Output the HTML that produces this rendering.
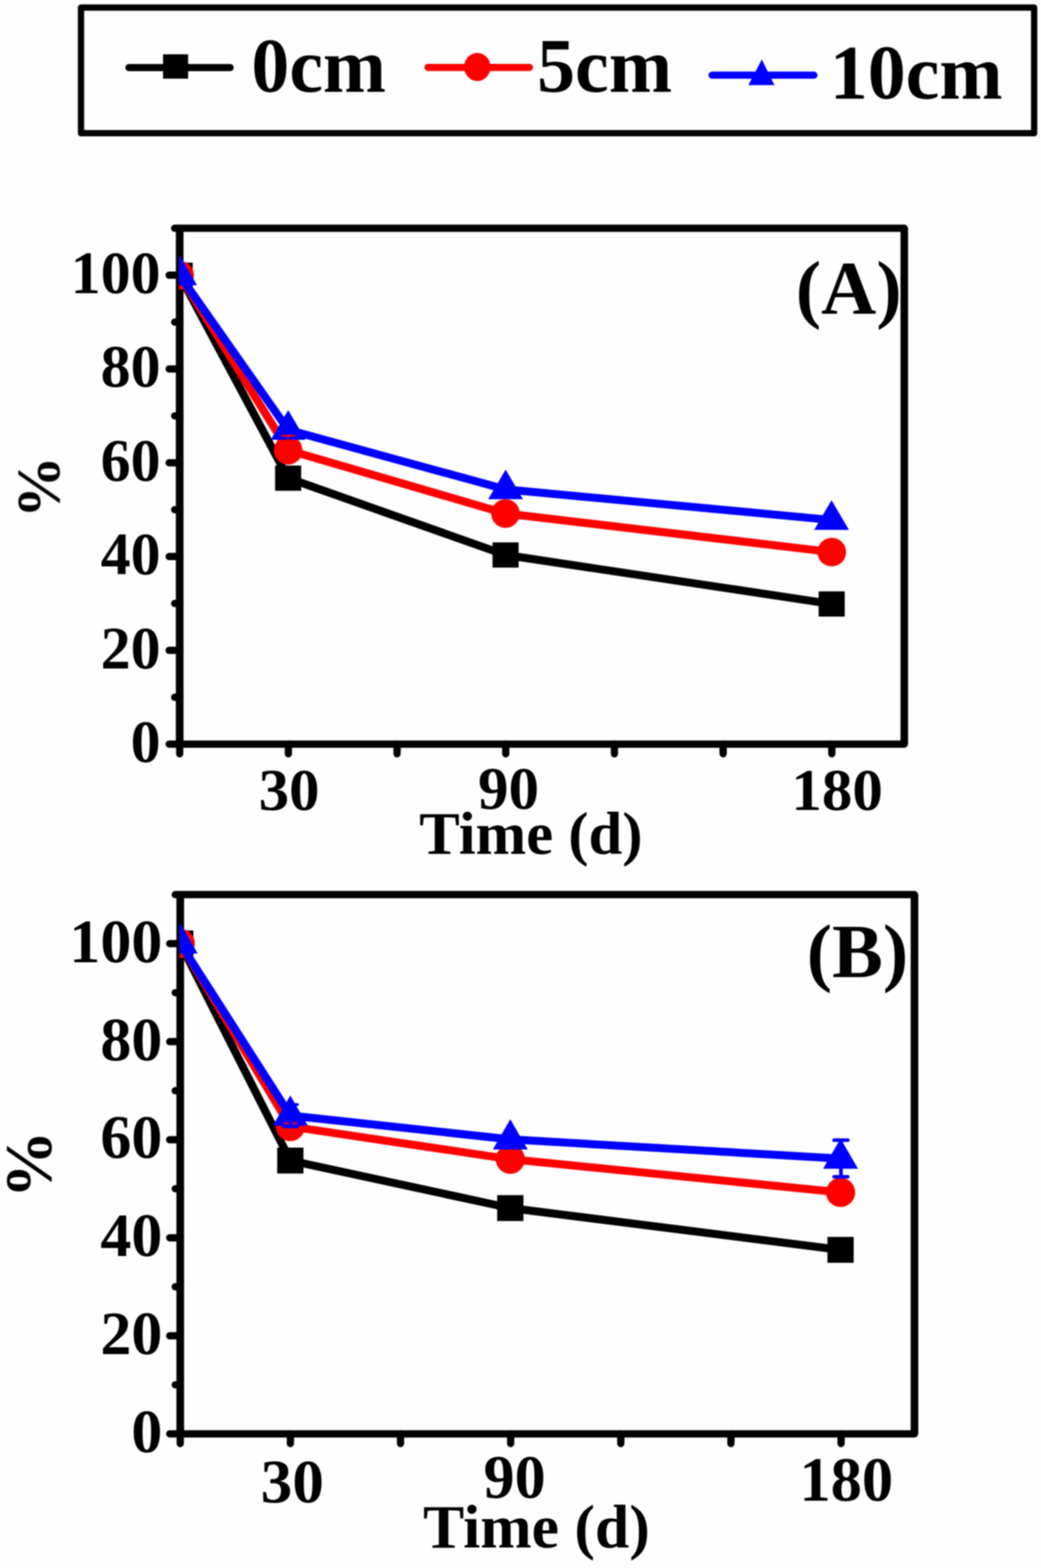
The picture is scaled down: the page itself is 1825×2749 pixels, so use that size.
<!DOCTYPE html>
<html lang="en"><head><meta charset="utf-8"><title>Figure</title>
<style>html,body{margin:0;padding:0;background:#fefefe}svg{display:block}text{font-family:"Liberation Serif",serif;font-weight:bold;fill:#000}</style></head><body>
<svg width="1825" height="2749" viewBox="0 0 1825 2749">
<rect width="1825" height="2749" fill="#fefefe"/>
<defs><filter id="soft" filterUnits="userSpaceOnUse" x="0" y="0" width="1825" height="2749" color-interpolation-filters="sRGB"><feGaussianBlur stdDeviation="1"/></filter></defs>
<g filter="url(#soft)">
<g id="legend">
<rect x="142" y="13.2" width="1671" height="220.4" fill="none" stroke="#000" stroke-width="11" stroke-linejoin="round"/>
<line x1="226" y1="118.5" x2="403.5" y2="118.5" stroke="#000" stroke-width="12.5" stroke-linecap="round"/>
<rect x="285.8" y="95.2" width="44" height="42.7" fill="#000"/>
<line x1="750.3" y1="118.2" x2="928.2" y2="118.2" stroke="#f00" stroke-width="12.5" stroke-linecap="round"/>
<ellipse cx="836.8" cy="117.45" rx="23.2" ry="24.6" fill="#f00"/>
<line x1="1248.2" y1="131.8" x2="1427" y2="131.8" stroke="#00f" stroke-width="12.5" stroke-linecap="round"/>
<polygon points="1335.6,104.3 1357.8,149.2 1311.9,149.2" fill="#00f"/>
<text transform="matrix(1.3291 0 0 1.3541 440.68 161.25)" font-size="100">0cm</text>
<text transform="matrix(1.3331 0 0 1.3474 941.47 161.25)" font-size="100">5cm</text>
<text transform="matrix(1.3312 0 0 1.3659 1454.65 172.73)" font-size="100">10cm</text>
</g>
<g id="A">
<clipPath id="clipA"><rect x="313.7" y="400.2" width="1271.6" height="904.4"/></clipPath>
<rect x="315" y="400.2" width="1270.30" height="904.40" fill="none" stroke="#000" stroke-width="12.75" stroke-linejoin="round"/>
<path d="M315 400.2V1304.6M1585.3 400.2V1304.6" fill="none" stroke="#000" stroke-width="13.1"/>
<path d="M296.50 1304.60H315 M306.20 1222.38H315 M296.50 1140.16H315 M306.20 1057.95H315 M296.50 975.73H315 M306.20 893.51H315 M296.50 811.29H315 M306.20 729.07H315 M296.50 646.85H315 M306.20 564.64H315 M296.50 482.42H315 M306.20 400.20H315 M315.00 1304.6V1321.60 M505.54 1304.6V1321.60 M696.09 1304.6V1321.60 M886.63 1304.6V1321.60 M1077.18 1304.6V1321.60 M1267.72 1304.6V1321.60 M1458.27 1304.6V1321.60" fill="none" stroke="#000" stroke-width="12.75" stroke-linecap="round"/>
<g clip-path="url(#clipA)">
<path d="M315.0 482.6 L505.2 838.3 L886.4 973.0 L1458.0 1058.9" fill="none" stroke="#000" stroke-width="14" stroke-linejoin="round"/>
<rect x="292.1" y="460.5" width="45.7" height="44.2" fill="#000"/>
<rect x="482.3" y="816.2" width="45.7" height="44.2" fill="#000"/>
<rect x="863.5" y="950.9" width="45.7" height="44.2" fill="#000"/>
<rect x="1435.2" y="1036.8" width="45.7" height="44.2" fill="#000"/>
<path d="M315.0 482.6 L505.2 789.3 L886.2 900.3 L1458.2 967.9" fill="none" stroke="#f00" stroke-width="14" stroke-linejoin="round"/>
<circle cx="315.0" cy="482.6" r="25.1" fill="#f00"/>
<circle cx="505.2" cy="789.3" r="25.1" fill="#f00"/>
<circle cx="886.2" cy="900.3" r="25.1" fill="#f00"/>
<circle cx="1458.2" cy="967.9" r="25.1" fill="#f00"/>
<path d="M315.0 482.6 L505.2 753.6 L886.4 858.0 L1457.8 911.6" fill="none" stroke="#00f" stroke-width="14" stroke-linejoin="round"/>
<polygon points="315.0,447.9 345.5,499.9 284.5,499.9" fill="#00f"/>
<polygon points="505.2,718.9 535.7,770.9 474.7,770.9" fill="#00f"/>
<polygon points="886.4,823.3 916.9,875.3 855.9,875.3" fill="#00f"/>
<polygon points="1457.8,876.9 1488.3,928.9 1427.3,928.9" fill="#00f"/>
<path d="M505.4 763.8V807.3" fill="none" stroke="#f00" stroke-width="2.4" stroke-opacity="0.8"/>
<path d="M494.9 763.8h21M494.9 807.3h21" fill="none" stroke="#f00" stroke-width="4.2" stroke-linecap="round" stroke-opacity="0.8"/>
</g>
<text x="229.10" y="1335.99" font-size="105">0</text>
<text x="176.60" y="1171.55" font-size="105">20</text>
<text x="176.60" y="1007.11" font-size="105">40</text>
<text x="176.60" y="842.68" font-size="105">60</text>
<text x="176.60" y="678.24" font-size="105">80</text>
<text x="124.10" y="513.81" font-size="105">100</text>
<text transform="matrix(1.0674 0 0 1.0370 453.43 1419.96)" font-size="100">30</text>
<text transform="matrix(1.0699 0 0 1.0519 837.89 1418.45)" font-size="100">90</text>
<text transform="matrix(1.0717 0 0 1.0400 1387.13 1419.66)" font-size="100">180</text>
<text transform="matrix(1.0121 0 0 1 735.10 1496.80)" font-size="105.2">Time (d)</text>
<text transform="matrix(0.9989 0 0 1 1394.98 550.10)" font-size="134">(A)</text>
<text transform="matrix(0 -1.0875 1.0770 0 104.58 908.42)" font-size="100">%</text>
</g>
<g id="B">
<clipPath id="clipB"><rect x="314.7" y="1568.4" width="1288.5" height="945.4"/></clipPath>
<rect x="316" y="1568.4" width="1287.20" height="945.40" fill="none" stroke="#000" stroke-width="12.75" stroke-linejoin="round"/>
<path d="M316 1568.4V2513.8M1603.2 1568.4V2513.8" fill="none" stroke="#000" stroke-width="13.1"/>
<path d="M297.50 2513.80H316 M307.20 2427.85H316 M297.50 2341.91H316 M307.20 2255.96H316 M297.50 2170.02H316 M307.20 2084.07H316 M297.50 1998.13H316 M307.20 1912.18H316 M297.50 1826.24H316 M307.20 1740.29H316 M297.50 1654.35H316 M307.20 1568.40H316 M316.00 2513.8V2530.80 M509.08 2513.8V2530.80 M702.16 2513.8V2530.80 M895.24 2513.8V2530.80 M1088.32 2513.8V2530.80 M1281.40 2513.8V2530.80 M1474.48 2513.8V2530.80" fill="none" stroke="#000" stroke-width="12.75" stroke-linecap="round"/>
<g clip-path="url(#clipB)">
<path d="M316.0 1654.0 L509.0 2034.7 L894.6 2118.0 L1473.6 2191.2" fill="none" stroke="#000" stroke-width="14" stroke-linejoin="round"/>
<rect x="293.0" y="1631.3" width="46" height="45.4" fill="#000"/>
<rect x="486.0" y="2012.0" width="46" height="45.4" fill="#000"/>
<rect x="871.6" y="2095.3" width="46" height="45.4" fill="#000"/>
<rect x="1450.6" y="2168.5" width="46" height="45.4" fill="#000"/>
<path d="M316.0 1654.0 L509.0 1975.0 L894.6 2032.3 L1473.6 2090.5" fill="none" stroke="#f00" stroke-width="14" stroke-linejoin="round"/>
<circle cx="316.0" cy="1654.0" r="25.6" fill="#f00"/>
<circle cx="509.0" cy="1975.0" r="25.6" fill="#f00"/>
<circle cx="894.6" cy="2032.3" r="25.6" fill="#f00"/>
<circle cx="1473.6" cy="2090.5" r="25.6" fill="#f00"/>
<path d="M316.0 1654.0 L509.0 1955.8 L894.6 1997.5 L1473.6 2031.3" fill="none" stroke="#00f" stroke-width="14" stroke-linejoin="round"/>
<polygon points="316.0,1618.7 346.6,1671.7 285.4,1671.7" fill="#00f"/>
<polygon points="509.0,1920.5 539.6,1973.5 478.4,1973.5" fill="#00f"/>
<polygon points="894.6,1962.2 925.2,2015.2 864.0,2015.2" fill="#00f"/>
<polygon points="1473.6,1996.0 1504.2,2049.0 1443.0,2049.0" fill="#00f"/>
<path d="M509.0 1969.5V1981.5" fill="none" stroke="#f00" stroke-width="2.4" stroke-opacity="0.8"/>
<path d="M498.5 1969.5h21M498.5 1981.5h21" fill="none" stroke="#f00" stroke-width="4.2" stroke-linecap="round" stroke-opacity="0.8"/>
<path d="M509.3 1936.5V1975.4" fill="none" stroke="#00f" stroke-width="5"/>
<path d="M497.3 1936.5h24M497.3 1975.4h24" fill="none" stroke="#00f" stroke-width="5" stroke-linecap="round"/>
<path d="M1474.3 1998.9V2063.1" fill="none" stroke="#00f" stroke-width="6.5"/>
<path d="M1462.3 1998.9h24M1462.3 2063.1h24" fill="none" stroke="#00f" stroke-width="6.2" stroke-linecap="round"/>
</g>
<text x="230.30" y="2546.10" font-size="108.7">0</text>
<text x="175.95" y="2374.21" font-size="108.7">20</text>
<text x="175.95" y="2202.32" font-size="108.7">40</text>
<text x="175.95" y="2030.43" font-size="108.7">60</text>
<text x="175.95" y="1858.54" font-size="108.7">80</text>
<text x="121.60" y="1686.64" font-size="108.7">100</text>
<text transform="matrix(1.1087 0 0 1.0889 457.07 2633.61)" font-size="100">30</text>
<text transform="matrix(1.0882 0 0 1.0770 847.84 2626.32)" font-size="100">90</text>
<text transform="matrix(1.0964 0 0 1.0948 1401.43 2631.01)" font-size="100">180</text>
<text transform="matrix(1.0066 0 0 1 741.78 2712.50)" font-size="107.4">Time (d)</text>
<text transform="matrix(1.0043 0 0 1 1414.29 1713.00)" font-size="133">(B)</text>
<text transform="matrix(0 -1.1887 1.1630 0 89.16 2100.98)" font-size="100">%</text>
</g>
</g>
</svg></body></html>
